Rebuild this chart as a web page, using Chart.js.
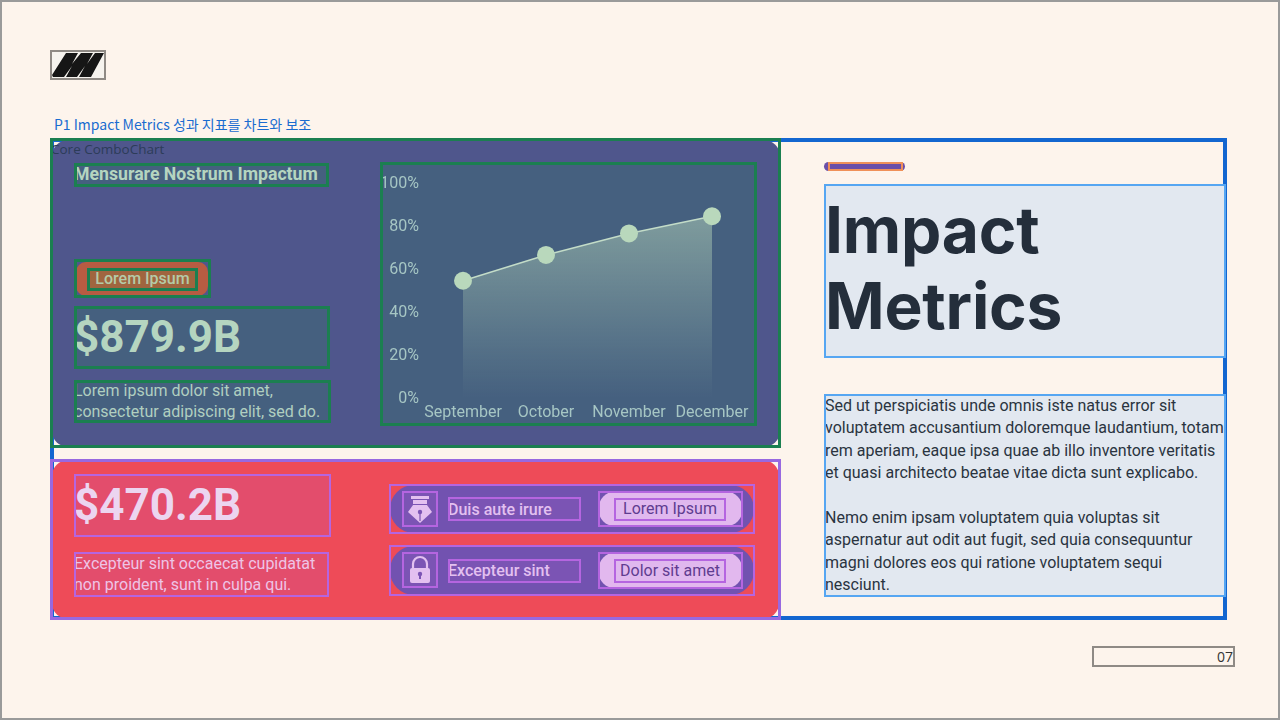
<!DOCTYPE html>
<html>
<head>
<meta charset="utf-8">
<script src="https://cdn.jsdelivr.net/npm/chart.js@4"></script>
<style>
html, body { margin: 0; padding: 0; }
body { width: 1280px; height: 720px; overflow: hidden; background: #fdf4ec; font-family: Roboto, sans-serif; position: relative; }
.abs { position: absolute; box-sizing: border-box; white-space: nowrap; }
/* outlines sit over the text, like in the reference */
.box { position: absolute; box-sizing: border-box; white-space: nowrap; }
.box::after { content: ''; position: absolute; left: 0; top: 0; right: 0; bottom: 0; border: var(--w, 2px) solid var(--line); pointer-events: none; }
.green { --line: #1b7f50; --w: 3px; }
.violet { --line: #b565e0; }
.sky { --line: #56a6f2; }
.grey { --line: #8f8a85; }
.fillG { background: #45607f; }
.fillR { background: #e34d6c; }
.fillP { background: #7b54b4; }
</style>
</head>
<body>
<div class="abs" style="left:0;top:0;width:1280px;height:720px;border:2px solid #9a9a9a"></div>

<div class="box grey" style="left:50px;top:50px;width:56px;height:30px;background:#f6f3ee">
  <svg width="56" height="30" style="position:absolute;left:0;top:0">
    <polygon fill="#161616" points="2,25 16,3 28,3 22,14 31,3 43,3 37,14 45,3 54,3 41,27 29,27 35,16 27,27 16,27 22,16 14,27 3,27"/>
  </svg>
</div>

<div class="abs" style="left:54px;top:115px;font:14px 'Noto Sans CJK KR','Noto Sans';line-height:18px;color:#1a6cd0">P1 Impact Metrics 성과 지표를 차트와 보조</div>

<!-- outer blue frame -->
<div class="abs" style="left:50px;top:138px;width:1177px;height:482px;border:4px solid #1366d0"></div>

<!-- right column -->
<div class="abs" style="left:824px;top:162px;width:81px;height:9px;background:#6b4fa8;border-radius:5px"></div>
<div class="box" style="--line:#f09058;left:828px;top:162px;width:75px;height:9px"></div>
<div class="box sky" style="left:824px;top:184px;width:402px;height:174px;background:#e2e8f0">
  <div class="abs" style="left:1px;top:8px;font:700 64px/76px Inter,Roboto;color:#242e3b;letter-spacing:-0.2px">Impact<br>Metrics</div>
</div>
<div class="box sky" style="left:824px;top:394px;width:402px;height:203px;background:#e2e8f0;font-size:16px;line-height:22.4px;color:#2a3440">
  <div class="abs" style="left:1px;top:1px">Sed ut perspiciatis unde omnis iste natus error sit<br>voluptatem accusantium doloremque laudantium, totam<br>rem aperiam, eaque ipsa quae ab illo inventore veritatis<br>et quasi architecto beatae vitae dicta sunt explicabo.<br><br>Nemo enim ipsam voluptatem quia voluptas sit<br>aspernatur aut odit aut fugit, sed quia consequuntur<br>magni dolores eos qui ratione voluptatem sequi<br>nesciunt.</div>
</div>

<!-- top panel -->
<div class="abs" style="left:52px;top:140px;width:728px;height:307px;background:#4f568c;border-radius:16px"></div>
<div class="abs" style="left:51px;top:140px;font:13.5px/18px 'Open Sans','Noto Sans';color:#2c3c58">Core ComboChart</div>
<div class="box green" style="left:50px;top:138px;width:731px;height:310px"></div>

<div class="box green fillG" style="left:74px;top:163px;width:255px;height:24px">
  <div class="abs" style="left:0;top:0;font:700 17.7px/22px Roboto;color:#b5d5c0">Mensurare Nostrum Impactum</div>
</div>
<div class="box green" style="left:74px;top:259px;width:137px;height:39px">
  <div class="abs" style="left:2px;top:3px;width:132px;height:34px;background:#b85c42;border-radius:10px"></div>
</div>
<div class="box green" style="left:87px;top:268px;width:111px;height:23px;background:#a0653f">
  <div class="abs" style="left:0;width:111px;top:0;text-align:center;font:500 16px/22px Roboto;color:#b4cba8">Lorem Ipsum</div>
</div>
<div class="box green fillG" style="left:74px;top:306px;width:256px;height:63px">
  <div class="abs" style="left:0;top:5px;font:700 44px/52px Roboto;color:#b5d5c0">$879.9B</div>
</div>
<div class="box green fillG" style="left:74px;top:380px;width:257px;height:43px">
  <div class="abs" style="left:0;top:0;font:16px/21px Roboto;color:#b0cfc0">Lorem ipsum dolor sit amet,<br>consectetur adipiscing elit, sed do.</div>
</div>

<div class="box green fillG" style="left:380px;top:162px;width:377px;height:264px">
  <canvas id="impactChart" width="377" height="264" style="position:absolute;left:0;top:0;width:377px;height:264px"></canvas>
</div>

<!-- bottom panel -->
<div class="abs" style="left:52px;top:460px;width:727px;height:159px;background:#ee4b58;border-radius:16px"></div>
<div class="box" style="--line:#9868e0;--w:3px;left:50px;top:459px;width:731px;height:161px"></div>

<div class="box violet fillR" style="left:74px;top:474px;width:257px;height:63px">
  <div class="abs" style="left:0;top:5px;font:700 44px/52px Roboto;color:#ecd5f0">$470.2B</div>
</div>
<div class="box violet fillR" style="left:74px;top:552px;width:255px;height:45px">
  <div class="abs" style="left:0;top:1px;font:16px/21px Roboto;color:#eec4e6">Excepteur sint occaecat cupidatat<br>non proident, sunt in culpa qui.</div>
</div>

<!-- row 1 -->
<div class="box violet" style="left:389px;top:484px;width:366px;height:50px">
  <div class="abs" style="left:1px;top:1px;width:364px;height:48px;background:#7252b0;border-radius:24px"></div>
</div>
<div class="box violet fillP" style="left:402px;top:491px;width:36px;height:36px">
  <svg width="36" height="36" style="position:absolute;left:0;top:0"><g fill="#e3c0f0">
    <rect x="9" y="5" width="18" height="3"/><rect x="11" y="9" width="14" height="4"/>
    <path d="M11 14h14l5 7-12 11-12-11z"/></g>
    <circle cx="18" cy="21" r="2.2" fill="#7b54b4"/><rect x="17.4" y="21" width="1.2" height="9" fill="#7b54b4"/>
  </svg>
</div>
<div class="box violet fillP" style="left:448px;top:497px;width:133px;height:24px">
  <div class="abs" style="left:0;top:1px;font:500 16px/23px Roboto;color:#e3c0f0">Duis aute irure</div>
</div>
<div class="box violet" style="left:598px;top:491px;width:145px;height:36px">
  <div class="abs" style="left:1px;top:1px;width:143px;height:34px;background:#e2b8ee;border-radius:15px"></div>
</div>
<div class="box violet" style="left:614px;top:498px;width:112px;height:23px;background:#e0b8ee">
  <div class="abs" style="left:0;width:112px;top:0;text-align:center;font:16px/22px Roboto;color:#5f3c90">Lorem Ipsum</div>
</div>

<!-- row 2 -->
<div class="box violet" style="left:389px;top:545px;width:366px;height:51px">
  <div class="abs" style="left:1px;top:1px;width:364px;height:49px;background:#7252b0;border-radius:24px"></div>
</div>
<div class="box violet fillP" style="left:402px;top:552px;width:36px;height:36px">
  <svg width="36" height="36" style="position:absolute;left:0;top:0">
    <path d="M11 17v-5a7 7 0 0 1 14 0v5" fill="none" stroke="#e3c0f0" stroke-width="2.2"/>
    <rect x="8" y="16" width="20" height="15" rx="2" fill="#e3c0f0"/>
    <circle cx="18" cy="22" r="2.2" fill="#7b54b4"/><rect x="17" y="22" width="2" height="5" fill="#7b54b4"/>
  </svg>
</div>
<div class="box violet fillP" style="left:448px;top:559px;width:133px;height:24px">
  <div class="abs" style="left:0;top:0;font:500 16px/23px Roboto;color:#e3c0f0">Excepteur sint</div>
</div>
<div class="box violet" style="left:598px;top:552px;width:145px;height:37px">
  <div class="abs" style="left:1px;top:1px;width:143px;height:35px;background:#e2b8ee;border-radius:15px"></div>
</div>
<div class="box violet" style="left:614px;top:559px;width:112px;height:24px;background:#e0b8ee">
  <div class="abs" style="left:0;width:112px;top:1px;text-align:center;font:16px/22px Roboto;color:#5f3c90">Dolor sit amet</div>
</div>

<!-- page number -->
<div class="box grey" style="left:1092px;top:646px;width:143px;height:21px">
  <div class="abs" style="right:2px;top:1px;font:14px/20px 'Open Sans','Noto Sans';color:#333">07</div>
</div>

<script>
// chart data
var months = ['September', 'October', 'November', 'December'];
var impactValues = [55, 67, 77, 85];

var tickColor = '#a6c6c4';

// gradient under the line, fades out at the x axis
function areaFill(context) {
    var chart = context.chart;
    if (!chart.chartArea) return 'transparent';
    var grad = chart.ctx.createLinearGradient(0, chart.scales.y.getPixelForValue(85), 0, chart.chartArea.bottom);
    grad.addColorStop(0, 'rgba(185,216,188,0.5)');
    grad.addColorStop(1, 'rgba(185,216,188,0)');
    return grad;
}

new Chart(document.getElementById('impactChart').getContext('2d'), {
    type: 'line',
    data: {
        labels: months,
        datasets: [{
            data: impactValues,
            borderColor: '#c3dcc8',
            borderWidth: 1.5,
            tension: 0,
            fill: 'origin',
            backgroundColor: areaFill,
            pointRadius: 9,
            pointBackgroundColor: '#b9d8bc',
            pointBorderWidth: 0,
            clip: false
        }]
    },
    options: {
        responsive: false,
        animation: false,
        layout: { autoPadding: false, padding: { top: 22, right: 3.5, left: 0, bottom: 0 } },
        plugins: { legend: { display: false }, tooltip: { enabled: false } },
        scales: {
            x: {
                offset: true,
                grid: { display: false, tickLength: 0 },
                border: { display: false },
                ticks: { color: tickColor, font: { family: 'Roboto', size: 16 }, padding: 4, maxRotation: 0, autoSkip: false },
                afterFit: function (scale) { scale.height = 27; scale.paddingLeft = 0; scale.paddingRight = 0; }
            },
            y: {
                min: 0,
                max: 100,
                grid: { display: false, tickLength: 0 },
                border: { display: false },
                ticks: {
                    stepSize: 20,
                    color: tickColor,
                    font: { family: 'Roboto', size: 16 },
                    padding: 2.5,
                    callback: function (v) { return v + '%'; }
                },
                afterFit: function (scale) { scale.width = 41.5; scale.paddingTop = 0; scale.paddingBottom = 0; }
            }
        }
    }
});
</script>
</body>
</html>
